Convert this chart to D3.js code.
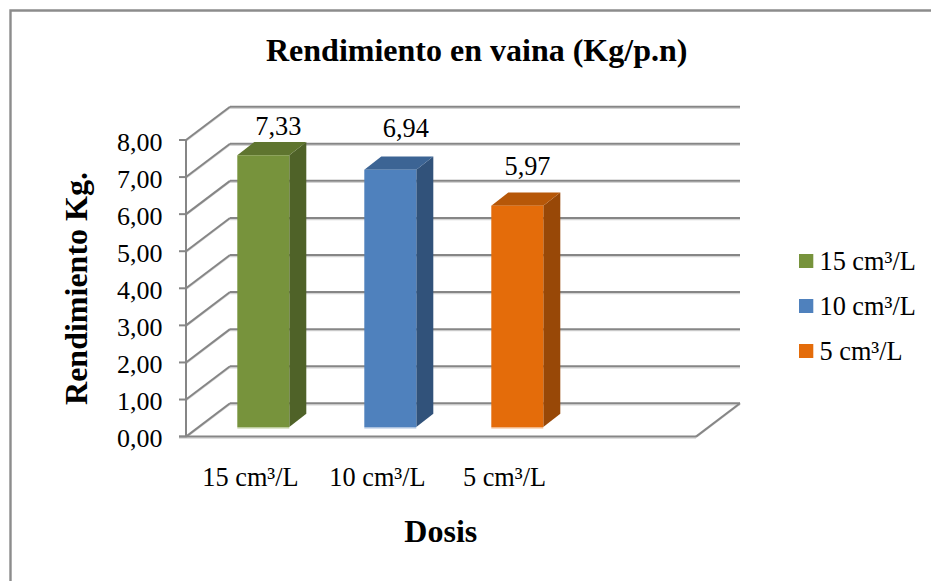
<!DOCTYPE html>
<html><head><meta charset="utf-8">
<script src="https://cdnjs.cloudflare.com/ajax/libs/d3/7.8.5/d3.min.js"></script>
<style>html,body{margin:0;background:#fff}svg{display:block}text{font-family:"Liberation Serif",serif;fill:#000}</style>
</head><body><svg id="c" width="931" height="581"></svg>
<script>
const categories = ["15 cm³/L","10 cm³/L","5 cm³/L"];
const values = [7.33,6.94,5.97];
const valueLabels = ["7,33","6,94","5,97"];
const yTicks = [0,1,2,3,4,5,6,7,8];
const frontColors = ["#77933c","#4f81bd","#e46c0a"];
const sideColors = ["#4f6228","#31527a","#984807"];
const topColors = ["#5f752f","#3c6494","#b65708"];
const baseColors = ["#bccb9c","#a9c0de","#f2b584"];

const svg = d3.select("#c");
const x = d3.scaleBand().domain([...categories,"__empty"]).range([186,694]);
const y = d3.scaleLinear().domain([0,8]).range([436.6,140]);
const wall = {dx:44, dy:-33.3};
const barW = 52, depth = {dx:17, dy:-13.2}, barShift = 13.8, barLift = -9.6;
const grey = "#868686", shade = "#d4d4d4";
const labelDx = [15,15.5,10.2], labelGap = [20,32.8,30.5];
const line = d3.line();

svg.append("path").attr("d","M10.5,581V10.5H931").attr("fill","none").attr("stroke","#8c8c8c").attr("stroke-width",2.4);

const g = svg.append("g").attr("fill","none");
yTicks.forEach(t=>{
  const yf = y(t), yb = yf+wall.dy, xb = 186+wall.dx;
  g.append("path").attr("d",line([[xb,yb+1.6],[740,yb+1.6]])).attr("stroke",shade).attr("stroke-width",1.2);
  g.append("path").attr("d",line([[xb,yb],[740,yb]])).attr("stroke",grey).attr("stroke-width",2);
  g.append("path").attr("d",line([[186,yf+1.2],[xb,yb+1.2]])).attr("stroke",shade).attr("stroke-width",1.2);
  g.append("path").attr("d",line([[186,yf],[xb,yb]])).attr("stroke",grey).attr("stroke-width",2);
  g.append("path").attr("d",line([[179,yf],[186,yf]])).attr("stroke",grey).attr("stroke-width",2);
});
g.append("path").attr("d",line([[186,y(8)],[186,y(0)]])).attr("stroke",grey).attr("stroke-width",2);
g.append("path").attr("d",line([[179,y(0)+1.6],[696,y(0)+1.6]])).attr("stroke",shade).attr("stroke-width",1.2);
g.append("path").attr("d",line([[179,y(0)],[696,y(0)]])).attr("stroke",grey).attr("stroke-width",2);
g.append("path").attr("d",line([[696,y(0)+1],[740,y(0)+wall.dy+1]])).attr("stroke",shade).attr("stroke-width",1.2);
g.append("path").attr("d",line([[696,y(0)],[740,y(0)+wall.dy]])).attr("stroke",grey).attr("stroke-width",2);

categories.forEach((c,i)=>{
  const cx = x(c)+x.bandwidth()/2+barShift, l = cx-barW/2, r = cx+barW/2;
  const t = y(values[i])+barLift, b = y(0)+barLift;
  const bar = svg.append("g");
  bar.append("path").attr("fill",sideColors[i]).attr("d",line([[r,t],[r+depth.dx,t+depth.dy],[r+depth.dx,b+depth.dy],[r,b]])+"Z");
  bar.append("path").attr("fill",topColors[i]).attr("d",line([[l,t],[l+depth.dx,t+depth.dy],[r+depth.dx,t+depth.dy],[r,t]])+"Z");
  bar.append("rect").attr("x",l).attr("y",t).attr("width",barW).attr("height",b-t).attr("fill",frontColors[i]);
  bar.append("rect").attr("x",l).attr("y",b).attr("width",barW).attr("height",1.5).attr("fill",baseColors[i]);
  svg.append("text").attr("x",cx+labelDx[i]).attr("y",t-labelGap[i]).attr("text-anchor","middle").attr("font-size",26.3).text(valueLabels[i]);
  svg.append("text").attr("x",x(c)+x.bandwidth()/2+1).attr("y",486).attr("text-anchor","middle").attr("font-size",26.3).text(c);
});

yTicks.forEach(t=>{
  svg.append("text").attr("x",162.5).attr("y",y(t)+10.5).attr("text-anchor","end").attr("font-size",26)
     .text(d3.format(".2f")(t).replace(".",","));
});

svg.append("text").attr("x",476.7).attr("y",61).attr("text-anchor","middle").attr("font-size",32).attr("font-weight","bold").text("Rendimiento en vaina (Kg/p.n)");
svg.append("text").attr("transform","translate(87.3,288.5) rotate(-90)").attr("text-anchor","middle").attr("font-size",32).attr("font-weight","bold").text("Rendimiento Kg.");
svg.append("text").attr("x",440.8).attr("y",541.7).attr("text-anchor","middle").attr("font-size",32).attr("font-weight","bold").text("Dosis");

const legendY = d3.scalePoint().domain(categories).range([261,351]);
categories.forEach((c,i)=>{
  svg.append("rect").attr("x",799).attr("y",legendY(c)-7).attr("width",14.3).attr("height",14).attr("fill",frontColors[i]);
  svg.append("text").attr("x",819.5).attr("y",legendY(c)+9).attr("font-size",26.3).text(c);
});
</script></body></html>
